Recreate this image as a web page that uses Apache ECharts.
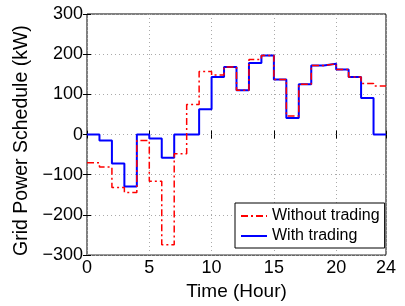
<!DOCTYPE html>
<html>
<head>
<meta charset="utf-8">
<script src="https://cdn.jsdelivr.net/npm/echarts@6/dist/echarts.min.js"></script>
<style>
html,body{margin:0;padding:0;background:#fff;}
#main{width:405px;height:306px;}
</style>
</head>
<body>
<div id="main"></div>
<script>
// hourly schedule, one value per hour 0..23
var hours = [0,1,2,3,4,5,6,7,8,9,10,11,12,13,14,15,16,17,18,19,20,21,22,23];
var withoutTrading = [-70,-81,-132,-144,-15,-116,-274,-48,75,157,148,168,110,187,197,137,46,125,172,176,162,143,127,121];
var withTrading = [0,-15,-72,-129,0,-10,-58,0,0,63,143,168,110,178,197,137,41,125,172,176,162,143,91,0];
var xTicks = [0,5,10,15,20,24];

function toSteps(vals){
    var pts = [];
    for(var i=0;i<hours.length;i++){
        pts.push([hours[i], vals[i]]);
    }
    pts.push([24, vals[vals.length-1]]);
    return pts;
}
function minus(v){
    return String(v).replace('-', '\u2212');
}

var myChart = echarts.init(document.getElementById('main'));
var font = 'Liberation Sans, Arial, Helvetica, sans-serif';
var option = {
    animation: false,
    textStyle: {fontFamily: font},
    grid: {
        left: 87, right: 19, top: 14, bottom: 49,
        show: true, borderColor: '#000', borderWidth: 1
    },
    legend: {
        left: 235, top: 203,
        orient: 'vertical',
        itemWidth: 26, itemHeight: 14, itemGap: 2,
        padding: [4, 5, 3, 5],
        backgroundColor: '#fff',
        borderColor: '#000', borderWidth: 1,
        itemStyle: {opacity: 0},
        textStyle: {fontSize: 16, lineHeight: 18, color: '#000', fontFamily: font},
        data: ['Without trading', 'With trading']
    },
    xAxis: [{
        type: 'value', min: 0, max: 24, interval: 5,
        name: 'Time (Hour)', nameLocation: 'middle', nameGap: 21,
        nameTextStyle: {fontSize: 19, color: '#000'},
        axisLine: {show: false},
        axisTick: {inside: true, length: 4, lineStyle: {color: '#000'}},
        axisLabel: {fontSize: 18, color: '#000', margin: 4,
            customValues: xTicks, formatter: function(v){ return v; }},
        splitLine: {show: true, lineStyle: {color: '#aaa', type: [1, 3]}}
    }, {
        type: 'value', min: 0, max: 24, interval: 5, position: 'top',
        axisLine: {show: false},
        axisTick: {inside: true, length: 4, lineStyle: {color: '#000'}},
        axisLabel: {show: false}, splitLine: {show: false}
    }],
    yAxis: [{
        type: 'value', min: -300, max: 300, interval: 100,
        name: 'Grid Power Schedule (kW)', nameLocation: 'middle', nameGap: 51,
        nameTextStyle: {fontSize: 19.5, color: '#000', padding: [0, 12, 0, 0]},
        axisLine: {show: false},
        axisTick: {inside: true, length: 4, lineStyle: {color: '#000'}},
        axisLabel: {fontSize: 18, color: '#000', margin: 4, formatter: minus},
        splitLine: {show: true, lineStyle: {color: '#aaa', type: [1, 3]}}
    }, {
        type: 'value', min: -300, max: 300, interval: 100, position: 'right',
        axisLine: {show: false},
        axisTick: {inside: true, length: 4, lineStyle: {color: '#000'}},
        axisLabel: {show: false}, splitLine: {show: false}
    }],
    series: [
        {
            name: 'Without trading', type: 'line', step: 'end',
            showSymbol: false, symbol: 'none',
            data: toSteps(withoutTrading),
            lineStyle: {color: '#ff0000', width: 1.5, type: [7, 3, 2, 3]},
            itemStyle: {color: '#ff0000'}, z: 3
        },
        {
            name: 'With trading', type: 'line', step: 'end',
            showSymbol: false, symbol: 'none',
            data: toSteps(withTrading),
            lineStyle: {color: '#0000ff', width: 2},
            itemStyle: {color: '#0000ff'}, z: 2
        }
    ]
};
myChart.setOption(option);
</script>
</body>
</html>
